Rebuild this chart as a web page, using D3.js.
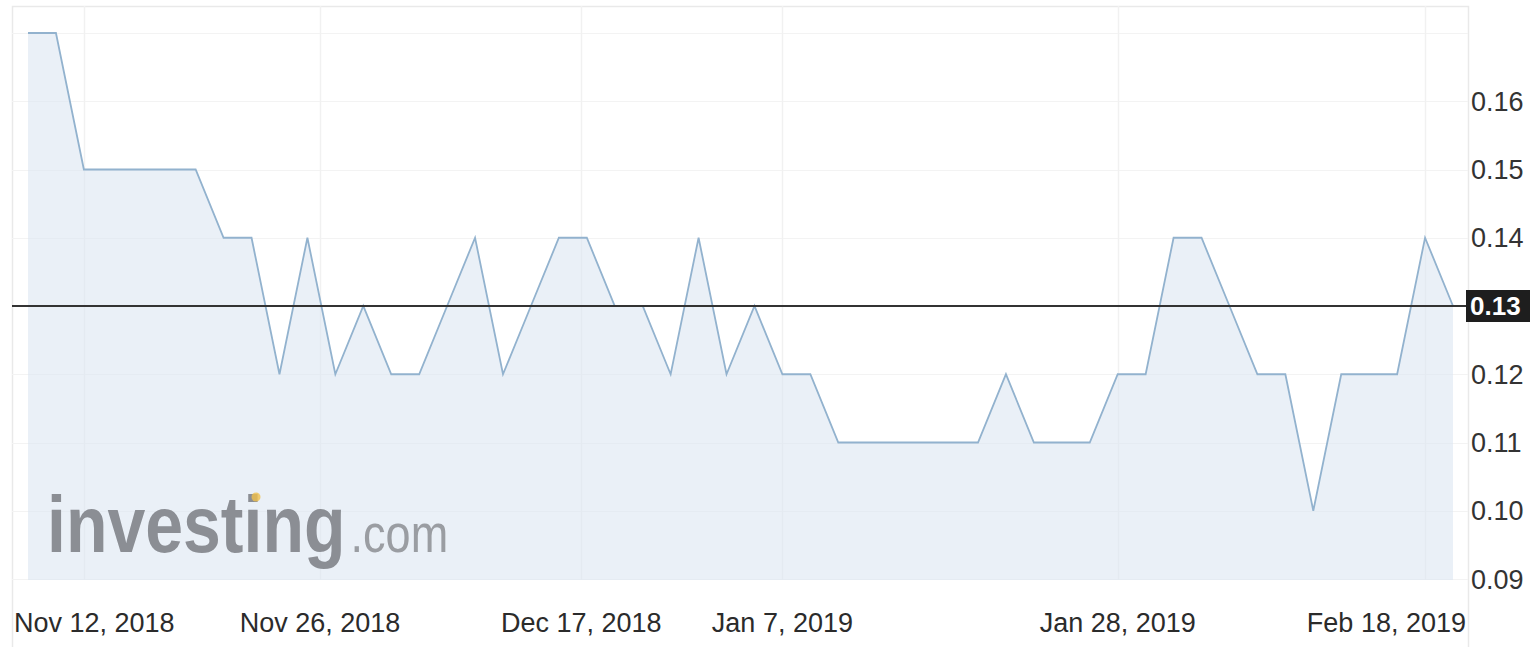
<!DOCTYPE html>
<html>
<head>
<meta charset="utf-8">
<script src="https://cdn.jsdelivr.net/npm/d3@7"></script>
<style>
  html, body { margin: 0; padding: 0; background: #fff; }
  svg { display: block; font-family: "Liberation Sans", Arial, Helvetica, sans-serif; }
</style>
</head>
<body>
<div class="container"></div>
<script>
// price per session (equally spaced sessions)
const prices = [
  0.17, 0.17, 0.15, 0.15, 0.15, 0.15, 0.15, 0.14, 0.14, 0.12,
  0.14, 0.12, 0.13, 0.12, 0.12, 0.13, 0.14, 0.12, 0.13, 0.14,
  0.14, 0.13, 0.13, 0.12, 0.14, 0.12, 0.13, 0.12, 0.12, 0.11,
  0.11, 0.11, 0.11, 0.11, 0.11, 0.12, 0.11, 0.11, 0.11, 0.12,
  0.12, 0.14, 0.14, 0.13, 0.12, 0.12, 0.10, 0.12, 0.12, 0.12,
  0.14, 0.13
];
const xTickLabels = ["Nov 12, 2018", "Nov 26, 2018", "Dec 17, 2018", "Jan 7, 2019", "Jan 28, 2019", "Feb 18, 2019"];
const xTickIndex = [2, 10.45, 19.8, 27, 39, 50];
const yTicks = [0.09, 0.10, 0.11, 0.12, 0.13, 0.14, 0.15, 0.16];
const gridValues = [0.09, 0.10, 0.11, 0.12, 0.13, 0.14, 0.15, 0.16, 0.17];
const lastPrice = 0.13;

const width = 1530, height = 647;
const panel = { left: 12, top: 6, right: 1468 };

const svg = d3.select(".container").append("svg")
    .attr("width", width)
    .attr("height", height);

const x = d3.scaleLinear().domain([0, prices.length - 1]).range([28, 1453]);
const y = d3.scaleLinear().domain([0.09, 0.17]).range([579, 33]);

// panel frame
svg.append("rect")
    .attr("x", panel.left + 0.5)
    .attr("y", panel.top + 0.5)
    .attr("width", panel.right - panel.left)
    .attr("height", height + 20)
    .attr("fill", "none")
    .attr("stroke", "#e9e9e9")
    .attr("stroke-width", 1.5);

// horizontal grid
svg.append("g")
    .selectAll("line")
    .data(gridValues)
    .join("line")
    .attr("x1", panel.left)
    .attr("x2", panel.right)
    .attr("y1", (d) => Math.round(y(d)) + 0.5)
    .attr("y2", (d) => Math.round(y(d)) + 0.5)
    .attr("stroke", "#f3f3f3");

// vertical grid at date ticks
svg.append("g")
    .selectAll("line")
    .data(xTickIndex)
    .join("line")
    .attr("x1", (d) => Math.round(x(d)) + 0.5)
    .attr("x2", (d) => Math.round(x(d)) + 0.5)
    .attr("y1", panel.top)
    .attr("y2", 580)
    .attr("stroke", "#f1f1f1")
    .attr("stroke-width", 1.5);

// area under the price
const area = d3.area()
    .x((d, i) => x(i))
    .y0(580)
    .y1((d) => y(d));

svg.append("path")
    .datum(prices)
    .attr("d", area)
    .attr("fill", "#d9e3f0")
    .attr("fill-opacity", 0.55);

// logo watermark (one text, squeezed horizontally)
const logo = svg.append("text")
    .attr("transform", "translate(47,552) scale(0.85,1)")
    .attr("fill", "#8b8e94");
logo.append("tspan")
    .attr("font-size", 80)
    .attr("font-weight", "bold")
    .text("investing");
logo.append("tspan")
    .attr("dx", 6)
    .attr("font-size", 53)
    .attr("fill", "#9a9da2")
    .text(".com");
svg.append("circle")
    .attr("cx", 256)
    .attr("cy", 497)
    .attr("r", 4.5)
    .attr("fill", "#f0c14b")
    .attr("opacity", 0.8);

// price line
const line = d3.line()
    .x((d, i) => x(i))
    .y((d) => y(d));

svg.append("path")
    .datum(prices)
    .attr("d", line)
    .attr("fill", "none")
    .attr("stroke", "#92b2ce")
    .attr("stroke-width", 1.8);

// current price line
svg.append("line")
    .attr("x1", panel.left)
    .attr("x2", 1467)
    .attr("y1", y(lastPrice))
    .attr("y2", y(lastPrice))
    .attr("stroke", "#333")
    .attr("stroke-width", 1.8);

// right price axis
svg.append("g")
    .selectAll("text")
    .data(yTicks.filter((d) => d !== lastPrice))
    .join("text")
    .attr("x", 1471)
    .attr("y", (d) => y(d))
    .attr("dy", "0.36em")
    .attr("font-size", 27)
    .attr("fill", "#333")
    .text((d) => d3.format(".2f")(d));

svg.append("rect")
    .attr("x", 1466)
    .attr("y", y(lastPrice) - 16)
    .attr("width", 64)
    .attr("height", 32)
    .attr("fill", "#1e1e1e");
svg.append("text")
    .attr("x", 1470)
    .attr("y", y(lastPrice))
    .attr("dy", "0.36em")
    .attr("font-size", 26)
    .attr("font-weight", "bold")
    .attr("fill", "#fff")
    .text(d3.format(".2f")(lastPrice));

// clipped volume axis label at the bottom edge
svg.append("text")
    .attr("x", 1471)
    .attr("y", 666)
    .attr("font-size", 27)
    .attr("fill", "#333")
    .text("0.0M");

// date axis labels, kept inside the panel
const xLabels = svg.append("g")
    .selectAll("text")
    .data(xTickLabels)
    .join("text")
    .attr("y", 632)
    .attr("font-size", 27)
    .attr("fill", "#2b2b2b")
    .attr("text-anchor", "start")
    .text((d) => d);

xLabels.each(function (d, i) {
    const w = this.getComputedTextLength();
    let left = x(xTickIndex[i]) - w / 2;
    left = Math.max(14, Math.min(1466 - w, left));
    d3.select(this).attr("x", left);
});
</script>
</body>
</html>
